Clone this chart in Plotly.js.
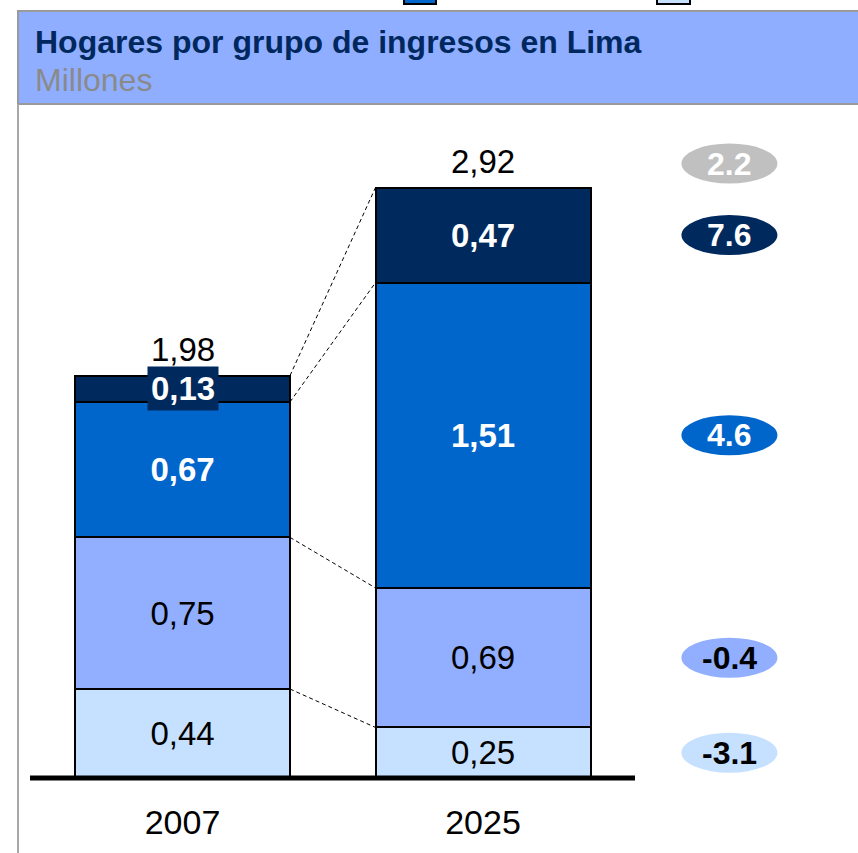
<!DOCTYPE html>
<html>
<head>
<meta charset="utf-8">
<script src="https://cdn.plot.ly/plotly-3.0.1.min.js"></script>
<style>
  html, body { margin: 0; padding: 0; background: #fff; }
  #graph { width: 858px; height: 853px; }
</style>
</head>
<body>
<div id="graph"></div>
<script>
/* chart data (millions of households) */
var years = ['2007', '2025'];
var groups = ['Bajo', 'Medio bajo', 'Medio', 'Alto'];
var bajo = [0.44, 0.25];
var medioBajo = [0.75, 0.69];
var medio = [0.67, 1.51];
var alto = [0.13, 0.47];
var totals = [1.98, 2.92];
var growthTotal = 2.2; /* growth of the total, % */
var growth = [-3.1, -0.4, 4.6, 7.6]; /* growth per group, same order as groups */

var colors = ['#C6E0FF', '#91AEFF', '#0066CC', '#00295E'];
var textColors = ['#000000', '#000000', '#FFFFFF', '#FFFFFF'];
var series = [bajo, medioBajo, medio, alto];

/* pixel helpers for the plot area: x 30..790, y 110..783 */
var plotL = 30, plotR = 790, plotT = 110, plotB = 783;
function paperX(p) { return (p - plotL) / (plotR - plotL); }
function paperY(p) { return (plotB - p) / (plotB - plotT); }

var font = 'Liberation Sans, Arial, sans-serif';
var labelSize = 33;
var barWidth = 0.7155;
var xPos = [0, 1];

function drawGraph() {
    var data = [];
    var i, j;
    /* stacked bars, dark top group labelled with annotations below */
    for (i = 0; i < series.length; i += 1) {
        data.push({
            type: 'bar',
            x: xPos,
            y: series[i],
            name: groups[i],
            width: barWidth,
            marker: { color: colors[i], line: { color: '#000000', width: 2 } },
            texttemplate: i < 3 ? '%{y:.2f}' : '',
            textposition: 'inside',
            insidetextanchor: 'middle',
            constraintext: 'none',
            textfont: {
                family: font,
                size: labelSize,
                color: textColors[i],
                weight: i >= 2 ? 'bold' : 'normal'
            },
            hoverinfo: 'skip'
        });
    }

    /* cumulative boundaries for the dashed connectors */
    var cum = [[], []];
    for (j = 0; j < 2; j += 1) {
        var s = 0;
        for (i = 0; i < series.length; i += 1) {
            s += series[i][j];
            cum[j].push(s);
        }
    }
    for (i = 0; i < series.length; i += 1) {
        data.push({
            type: 'scatter',
            mode: 'lines',
            x: [xPos[0] + barWidth / 2, xPos[1] - barWidth / 2],
            y: [cum[0][i], cum[1][i]],
            line: { color: '#000000', width: 1, dash: '4px,3px' },
            hoverinfo: 'skip',
            showlegend: false
        });
    }

    var shapes = [];
    var annotations = [];

    /* header band */
    shapes.push({
        type: 'rect', xref: 'paper', yref: 'paper',
        x0: paperX(18), x1: paperX(870), y0: paperY(104), y1: paperY(11),
        fillcolor: '#8FAEFF', line: { color: '#9A9A9A', width: 2 }, layer: 'below'
    });
    shapes.push({
        type: 'line', xref: 'paper', yref: 'paper',
        x0: paperX(18), x1: paperX(18), y0: paperY(104), y1: paperY(860),
        line: { color: '#A8A8A8', width: 2 }
    });
    /* cut-off legend keys at the very top */
    shapes.push({
        type: 'rect', xref: 'paper', yref: 'paper',
        x0: paperX(404), x1: paperX(436), y0: paperY(4), y1: paperY(-12),
        fillcolor: colors[2], line: { color: '#000000', width: 2 }
    });
    shapes.push({
        type: 'rect', xref: 'paper', yref: 'paper',
        x0: paperX(657), x1: paperX(690), y0: paperY(4), y1: paperY(-12),
        fillcolor: colors[0], line: { color: '#000000', width: 2 }
    });

    /* baseline */
    shapes.push({
        type: 'line', xref: 'x', yref: 'y',
        x0: -0.5075, x1: 1.5058, y0: 0, y1: 0,
        line: { color: '#000000', width: 5 }
    });

    annotations.push({
        xref: 'paper', yref: 'paper', x: paperX(33), y: paperY(42),
        xanchor: 'left', yanchor: 'middle', showarrow: false,
        text: '<b>Hogares por grupo de ingresos en Lima</b>',
        font: { family: font, size: 32, color: '#00285E' }
    });
    annotations.push({
        xref: 'paper', yref: 'paper', x: paperX(33), y: paperY(80),
        xanchor: 'left', yanchor: 'middle', showarrow: false,
        text: 'Millones',
        font: { family: font, size: 32, color: '#8A8A8A' }
    });

    /* top group labels (0,13 sits on a dark box wider than its slice) */
    for (j = 0; j < 2; j += 1) {
        annotations.push({
            x: xPos[j], y: cum[j][2] + alto[j] / 2,
            showarrow: false, yanchor: 'middle',
            text: '<b>' + alto[j].toFixed(2).replace('.', ',') + '</b>',
            bgcolor: colors[3], borderpad: 3,
            font: { family: font, size: labelSize, color: '#FFFFFF' }
        });
        annotations.push({
            x: xPos[j], y: cum[j][3], yshift: 6,
            showarrow: false, yanchor: 'bottom',
            text: totals[j].toFixed(2).replace('.', ','),
            font: { family: font, size: labelSize, color: '#000000' }
        });
    }

    /* growth bubbles on the right, aligned with the 2025 slices */
    var bubbleX = 1.82;
    var bubbleY = [];
    var bubbleFill = [];
    var bubbleText = [];
    var bubbleLabel = [];
    var bubbleShift = [];
    bubbleY.push(totals[1]);
    bubbleFill.push('#C0C0C0');
    bubbleText.push('#FFFFFF');
    bubbleLabel.push(growthTotal.toFixed(1));
    bubbleShift.push(24);
    for (i = 0; i < series.length; i += 1) {
        bubbleY.push(cum[1][i] - series[i][1] / 2);
        bubbleFill.push(colors[i]);
        bubbleText.push(textColors[i]);
        bubbleLabel.push(growth[i].toFixed(1));
        bubbleShift.push(0);
    }
    for (i = 0; i < bubbleY.length; i += 1) {
        shapes.push({
            type: 'circle', xref: 'x', yref: 'y',
            xsizemode: 'pixel', xanchor: bubbleX, x0: -48, x1: 48,
            ysizemode: 'pixel', yanchor: bubbleY[i],
            y0: bubbleShift[i] - 20, y1: bubbleShift[i] + 20,
            fillcolor: bubbleFill[i], line: { width: 0 }
        });
        annotations.push({
            x: bubbleX, y: bubbleY[i], yshift: bubbleShift[i],
            showarrow: false, yanchor: 'middle',
            text: '<b>' + bubbleLabel[i] + '</b>',
            font: { family: font, size: 32, color: bubbleText[i] }
        });
    }

    var layout = {
        width: 858,
        height: 853,
        margin: { l: plotL, r: 858 - plotR, t: plotT, b: 853 - plotB, pad: 0 },
        paper_bgcolor: '#FFFFFF',
        plot_bgcolor: '#FFFFFF',
        barmode: 'stack',
        separators: ',.',
        showlegend: false,
        xaxis: {
            range: [-0.5075, 2.0216],
            tickvals: xPos,
            ticktext: years,
            showgrid: false,
            zeroline: false,
            showline: false,
            ticks: '',
            ticklabelstandoff: 16,
            tickfont: { family: font, size: 34, color: '#000000' },
            fixedrange: true
        },
        yaxis: {
            range: [-5 / 202.2, 673 / 202.2 - 5 / 202.2],
            showgrid: false,
            zeroline: false,
            showline: false,
            showticklabels: false,
            ticks: '',
            fixedrange: true
        },
        shapes: shapes,
        annotations: annotations
    };

    Plotly.newPlot('graph', data, layout, { displayModeBar: false, staticPlot: true });
}
drawGraph();
</script>
</body>
</html>
